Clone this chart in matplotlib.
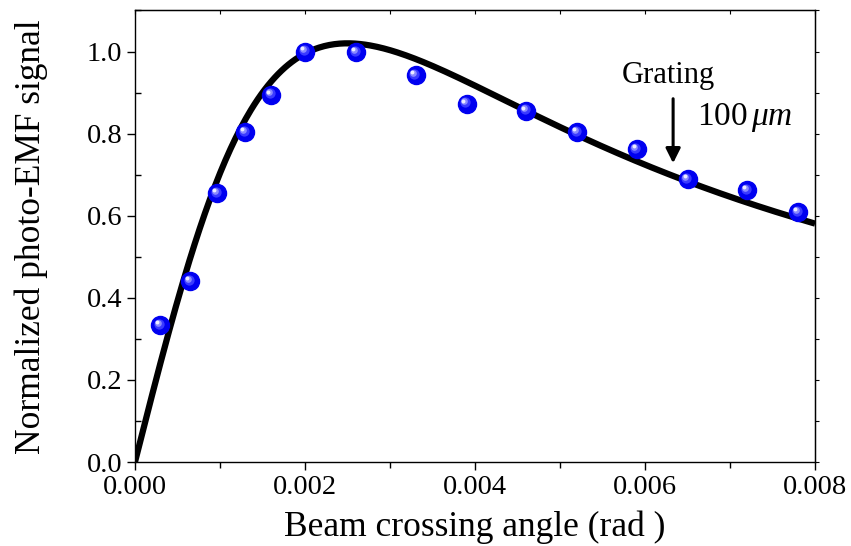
import numpy as np
import matplotlib
matplotlib.use("Agg")
import matplotlib.pyplot as plt
from matplotlib.ticker import MultipleLocator
from matplotlib.transforms import ScaledTranslation

plt.rcParams['font.family'] = ['Liberation Serif', 'DejaVu Serif']
plt.rcParams['mathtext.fontset'] = 'custom'
plt.rcParams['mathtext.rm'] = 'Liberation Serif'
plt.rcParams['mathtext.it'] = 'Liberation Serif:italic'

# measured photo-EMF signal
angle = [0.0003, 0.00065, 0.00097, 0.0013, 0.0016, 0.0020, 0.0026, 0.0033,
         0.0039, 0.0046, 0.0052, 0.0059, 0.0065, 0.0072, 0.0078]
signal = [0.333, 0.440, 0.655, 0.803, 0.895, 1.000, 0.998, 0.943,
          0.873, 0.856, 0.803, 0.762, 0.689, 0.662, 0.608]

# theory: S ~ K / (1 + K^2 L^2), set by position and height of the maximum
peak_angle = 0.0025
peak_signal = 1.02

grating_angle = 0.00633


def theory(theta):
    u = theta / peak_angle
    return 2 * peak_signal * u / (1 + u ** 2)


fig = plt.figure(figsize=(8.51, 5.46), dpi=100)
ax = fig.add_axes([0.1586, 0.1538, 0.7992, 0.8270])

# fitted curve
th = np.linspace(0, 0.008, 400)
ax.plot(th, theory(th), color='black', lw=4.5, solid_capstyle='butt', zorder=2)

# data points drawn as shaded blue balls
ax.plot(angle, signal, 'o', ms=13, mfc='#0000f0', mec='#0000f0', zorder=3)
shine = [(7.4, '#3a3aff'), (4.8, '#8a8aff'), (2.8, '#ececff')]
for k, (ms, col) in enumerate(shine):
    off = ScaledTranslation(-(1.0 + k * 0.6) / 72, (1.0 + k * 0.6) / 72, fig.dpi_scale_trans)
    ax.plot(angle, signal, 'o', ms=ms, mfc=col, mec='none',
            transform=ax.transData + off, zorder=4 + k)

# grating marker
ax.annotate('', xy=(grating_angle, 0.728), xytext=(grating_angle, 0.885),
            arrowprops=dict(arrowstyle='-|>', color='black', lw=2.2,
                            mutation_scale=22, shrinkA=0, shrinkB=0))
ax.text(0.00628, 0.942, 'Grating', fontsize=22, ha='center', va='center')
ax.text(0.00661, 0.839, r'100$\,\mu m$', fontsize=24, ha='left', va='center')

ax.set_xlim(0, 0.008)
ax.set_ylim(0, 1.1)
ax.xaxis.set_major_locator(MultipleLocator(0.002))
ax.xaxis.set_minor_locator(MultipleLocator(0.001))
ax.yaxis.set_major_locator(MultipleLocator(0.2))
ax.yaxis.set_minor_locator(MultipleLocator(0.1))
ax.set_xticklabels([f'{v:.3f}' for v in ax.get_xticks()])
ax.set_yticklabels([f'{v:.1f}' for v in ax.get_yticks()])

ax.tick_params(which='major', direction='out', length=6, width=1.0, labelsize=20.5, pad=3)
ax.tick_params(axis='x', which='minor', direction='out', length=4, width=1.0)
ax.tick_params(axis='y', which='minor', direction='in', length=4, width=1.0)
for s in ax.spines.values():
    s.set_linewidth(1.0)

# plain ticks on top and right sides
top = ax.secondary_xaxis('top')
top.xaxis.set_major_locator(MultipleLocator(0.001))
top.tick_params(direction='in', length=3, width=0.8, labeltop=False)
right = ax.secondary_yaxis('right')
right.yaxis.set_major_locator(MultipleLocator(0.1))
right.tick_params(direction='out', length=3, width=0.8, labelright=False)

ax.set_xlabel('Beam crossing angle (rad )', fontsize=25.5)
ax.set_ylabel('Normalized photo-EMF signal', fontsize=25.5)
ax.xaxis.set_label_coords(0.5, -0.108)
ax.yaxis.set_label_coords(-0.128, 0.5)

fig.savefig('out.png', dpi=100)
